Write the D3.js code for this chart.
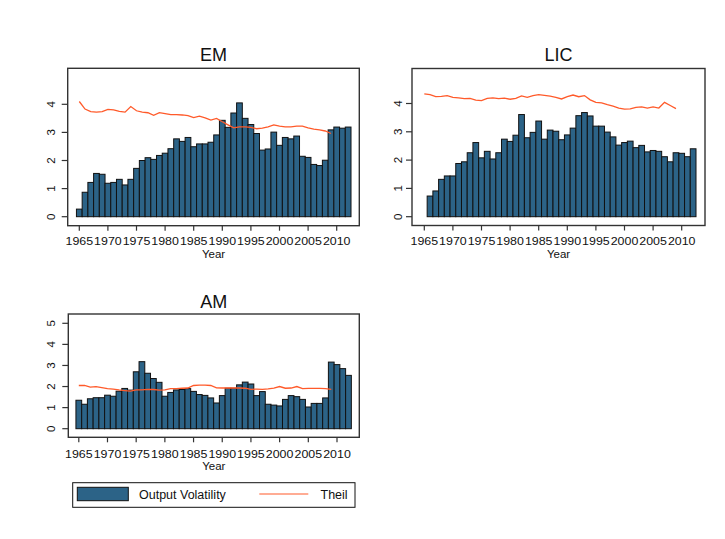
<!DOCTYPE html>
<html><head><meta charset="utf-8">
<script src="https://cdn.jsdelivr.net/npm/d3@7"></script>
<style>body{margin:0;background:#fff}svg{display:block}text{font-family:Arial,"Liberation Sans",sans-serif;fill:#111}</style>
</head><body><svg id="c" width="725" height="539"></svg>
<script>
// ---- data ----
const panelTitles = ["EM", "LIC", "AM"];
const legendLabels = ["Output Volatility", "Theil"];
const xTickLabels = ["1965","1970","1975","1980","1985","1990","1995","2000","2005","2010"];
const emYTicks = [0, 1, 2, 3, 4];
const licYTicks = [0, 1, 2, 3, 4];
const amYTicks = [0, 1, 2, 3, 4, 5];

const emBarYears = d3.range(1965, 2013);
const emVolatility = [0.27,0.87,1.22,1.54,1.51,1.19,1.22,1.33,1.13,1.33,
  1.72,2.00,2.10,2.04,2.18,2.26,2.42,2.77,2.68,2.82,
  2.49,2.59,2.59,2.65,2.91,3.43,3.18,3.69,4.05,3.50,
  3.28,2.96,2.37,2.41,3.01,2.54,2.82,2.77,2.87,2.15,
  2.11,1.86,1.82,2.01,3.09,3.19,3.15,3.19];

const licBarYears = d3.range(1966, 2013);
const licVolatility = [0.73,0.91,1.32,1.44,1.44,1.88,1.94,2.26,2.62,2.08,
  2.31,2.04,2.26,2.74,2.66,2.88,3.61,2.79,2.98,3.38,
  2.74,3.06,3.02,2.72,2.89,3.13,3.57,3.68,3.56,3.20,
  3.20,2.99,2.82,2.53,2.62,2.67,2.44,2.52,2.29,2.34,
  2.31,2.12,1.94,2.26,2.24,2.12,2.40];

const amBarYears = d3.range(1965, 2013);
const amVolatility = [1.35,1.16,1.42,1.47,1.47,1.59,1.54,1.78,1.91,1.83,
  2.70,3.18,2.63,2.38,2.20,1.54,1.72,1.84,1.86,1.90,
  1.77,1.62,1.58,1.46,1.22,1.57,1.92,1.92,2.08,2.21,
  2.12,1.57,1.76,1.16,1.12,1.08,1.39,1.57,1.52,1.39,
  1.03,1.20,1.20,1.46,3.16,3.04,2.85,2.53];

const theilYears = d3.range(1965, 2010);
const emTheil = [4.10,3.83,3.74,3.72,3.74,3.82,3.80,3.75,3.72,3.92,
  3.77,3.72,3.70,3.61,3.70,3.67,3.63,3.63,3.62,3.60,
  3.53,3.58,3.52,3.44,3.50,3.38,3.27,3.16,3.20,3.20,
  3.18,3.13,3.15,3.20,3.27,3.22,3.20,3.20,3.22,3.22,
  3.16,3.12,3.09,3.05,2.96];
const licTheil = [4.34,4.31,4.24,4.25,4.28,4.22,4.20,4.17,4.18,4.12,
  4.10,4.18,4.20,4.17,4.19,4.15,4.18,4.27,4.22,4.28,
  4.31,4.29,4.26,4.22,4.16,4.24,4.30,4.24,4.28,4.13,
  4.04,4.02,3.96,3.91,3.84,3.80,3.81,3.86,3.88,3.84,
  3.88,3.84,4.04,3.93,3.82];
const amTheil = [2.05,2.05,1.97,2.00,1.95,1.90,1.88,1.84,1.81,1.78,
  1.84,1.84,1.87,1.86,1.83,1.84,1.90,1.90,1.92,1.93,
  2.05,2.07,2.07,2.05,1.94,1.93,1.93,1.93,1.93,1.92,
  1.87,1.88,1.87,1.89,1.92,2.00,1.92,1.93,2.00,1.90,
  1.91,1.91,1.91,1.90,1.87];

// ---- style / layout ----
const barColor = "#2c6387";
const lineColor = "#ff5a2a";
const frameColor = "#333";

const svg = d3.select("#c");
svg.append("rect").attr("width",725).attr("height",539).attr("fill","#fff");

const panels = [
  {title: panelTitles[0], years: emBarYears, vol: emVolatility, theil: emTheil, yTicks: emYTicks,
   frame:{l:67.7,r:359.3,t:68.3,b:225.7}, xr:[79.3,336.7], yd:[0,4], yr:[216.7,104.3], ylabX:50.5,
   titleY:61, tickLabY:245, yearY:257.5},
  {title: panelTitles[1], years: licBarYears, vol: licVolatility, theil: licTheil, yTicks: licYTicks,
   frame:{l:412,r:705,t:68.5,b:225.5}, xr:[424.3,681.7], yd:[0,4], yr:[216.7,103.5], ylabX:397.5,
   titleY:61, tickLabY:245, yearY:257.5},
  {title: panelTitles[2], years: amBarYears, vol: amVolatility, theil: amTheil, yTicks: amYTicks,
   frame:{l:68.3,r:359.3,t:314,b:437.3}, xr:[78.8,337], yd:[0,5], yr:[428.7,323.3], ylabX:50.5,
   titleY:307.5, tickLabY:457.5, yearY:469.5}
];

panels.forEach(p => {
  const g = svg.append("g");
  const x = d3.scaleLinear().domain([1965, 2010]).range(p.xr);
  const y = d3.scaleLinear().domain(p.yd).range(p.yr);
  const bw = x(1966) - x(1965);
  const f = p.frame;

  // title
  g.append("text").attr("x",(f.l+f.r)/2).attr("y",p.titleY).attr("text-anchor","middle")
    .style("font-size","18px").text(p.title);

  // bars
  g.selectAll("rect.bar").data(p.vol).enter().append("rect")
    .attr("class","bar")
    .attr("x",(d,i)=>x(p.years[i]) - bw/2)
    .attr("width",bw)
    .attr("y",d=>y(d))
    .attr("height",d=>y(0)-y(d))
    .attr("fill",barColor).attr("stroke","#111").attr("stroke-width",1);

  // theil line
  const line = d3.line().x((d,i)=>x(theilYears[i])).y(d=>y(d));
  g.append("path").datum(p.theil).attr("d",line).attr("fill","none")
    .attr("stroke",lineColor).attr("stroke-width",1.3);

  // frame
  g.append("rect").attr("x",f.l).attr("y",f.t).attr("width",f.r-f.l).attr("height",f.b-f.t)
    .attr("fill","none").attr("stroke",frameColor).attr("stroke-width",1.4);

  // y axis ticks
  p.yTicks.forEach(t => {
    g.append("line").attr("x1",f.l-6).attr("x2",f.l).attr("y1",y(t)).attr("y2",y(t))
      .attr("stroke",frameColor).attr("stroke-width",1.2);
    g.append("text").attr("transform",`translate(${p.ylabX},${y(t)}) rotate(-90)`)
      .attr("text-anchor","middle").attr("dy","0.35em").style("font-size","11.5px").text(t);
  });

  // x axis ticks
  xTickLabels.forEach(lab => {
    const xv = x(+lab);
    g.append("line").attr("x1",xv).attr("x2",xv).attr("y1",f.b).attr("y2",f.b+5)
      .attr("stroke",frameColor).attr("stroke-width",1.2);
    g.append("text").attr("x",xv).attr("y",p.tickLabY).attr("text-anchor","middle")
      .attr("textLength",27.6).attr("lengthAdjust","spacingAndGlyphs")
      .style("font-size","10.5px").text(lab);
  });

  g.append("text").attr("x",(f.l+f.r)/2).attr("y",p.yearY).attr("text-anchor","middle")
    .style("font-size","11.5px").text("Year");
});

// legend
const lg = svg.append("g");
lg.append("rect").attr("x",72.7).attr("y",482.7).attr("width",282.3).attr("height",24.6)
  .attr("fill","#fff").attr("stroke","#111").attr("stroke-width",1);
lg.append("rect").attr("x",77.3).attr("y",487.3).attr("width",51).attr("height",13.4)
  .attr("fill",barColor).attr("stroke","#111").attr("stroke-width",1);
lg.append("text").attr("x",139).attr("y",499).style("font-size","12.5px").text(legendLabels[0]);
lg.append("line").attr("x1",259.3).attr("x2",308.3).attr("y1",494).attr("y2",494)
  .attr("stroke",lineColor).attr("stroke-width",1.2);
lg.append("text").attr("x",320.5).attr("y",499).style("font-size","12.5px").text(legendLabels[1]);
</script>
</body></html>
